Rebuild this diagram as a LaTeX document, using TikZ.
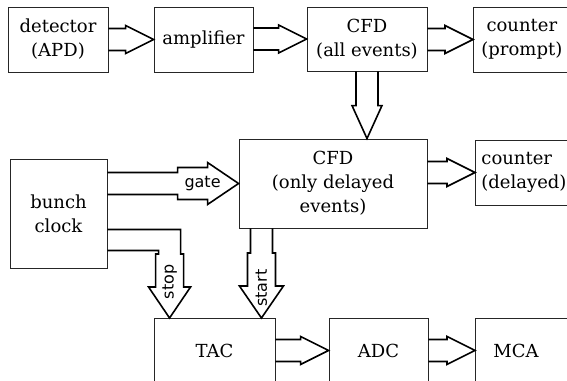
\documentclass[tikz,border=0pt]{standalone}
\usepackage{fontspec}
\setmainfont{DejaVu Serif}
\setsansfont{DejaVu Sans}
\usetikzlibrary{calc}

% freccia piccola orizzontale da #1 a #2
\newcommand{\frecciah}[2]{%
	\draw[freccia] ($(#1.east |- #2.west)+(0,-11)$) -- ($(#2.west)+(-28,-11)$) -- ++(0,-3)
		-- (#2.west) -- ($(#2.west)+(-28,14)$) -- ++(0,-3) -- ($(#1.east |- #2.west)+(0,11)$);}

\begin{document}
\begin{tikzpicture}[x=1pt, y=-1pt,
		blocco/.style={draw=black!85, line width=0.9pt, inner sep=0pt, align=center, font=\fontsize{18}{24}\selectfont},
		freccia/.style={draw=black, line width=1.6pt, line join=miter},
		etichetta/.style={font=\sffamily\fontsize{16}{16}\selectfont, inner sep=0pt}]
	% area visibile
	\useasboundingbox (0,0) rectangle (567,380);
	\clip (0,0) rectangle (567,380);
	\fill[white] (0,0) rectangle (567,380);
	% blocchi in alto
	\node[blocco, minimum width=100pt, minimum height=65pt] (det) at (58,39.5) {detector\\(APD)};
	\node[blocco, minimum width=99pt, minimum height=65pt] (amp) at (203.5,39.5) {amplifier};
	\node[blocco, minimum width=120pt, minimum height=64pt] (cfdA) at (367,39) {CFD\\(all events)};
	\node[blocco, minimum height=65pt, inner xsep=8pt, anchor=west] (cntP) at (473,39.5) {counter\\(prompt)};
	% blocchi in mezzo
	\node[blocco, minimum width=97pt, minimum height=109pt] (clock) at (58.5,213.5) {bunch\\clock};
	\node[blocco, minimum width=188pt, minimum height=89pt] (cfdB) at (333,183.5) {CFD\\(only delayed\\events)};
	\node[blocco, minimum height=65pt, inner xsep=6pt, align=left, anchor=west] (cntD) at (475,172.5) {counter\\(delayed)};
	% blocchi in basso
	\node[blocco, minimum width=121pt, minimum height=64pt, anchor=north] (tac) at (214.5,318) {TAC};
	\node[blocco, minimum width=99pt, minimum height=64pt, anchor=north] (adc) at (378.5,318) {ADC};
	\node[blocco, text width=70pt, inner xsep=18pt, minimum height=64pt, align=left, anchor=north west] (mca) at (475,318) {MCA};
	% frecce piccole
	\frecciah{det}{amp}
	\frecciah{amp}{cfdA}
	\frecciah{cfdA}{cntP}
	\frecciah{cfdB}{cntD}
	\frecciah{tac}{adc}
	\frecciah{adc}{mca}
	\draw[freccia] ($(cfdA.south)+(-11,0)$) -- ($(cfdA.south |- cfdB.north)+(-11,-33)$) -- ++(-4,0)
		-- (cfdA.south |- cfdB.north) -- ($(cfdA.south |- cfdB.north)+(15,-33)$) -- ++(-4,0) -- ($(cfdA.south)+(11,0)$);
	% gate
	\draw[freccia] ($(clock.east |- cfdB.west)+(0,-11)$) -- ($(cfdB.west)+(-61,-11)$) -- ++(0,-5) -- ++(30,0) -- ++(0,-5)
		-- (cfdB.west) -- ($(cfdB.west)+(-31,21)$) -- ++(0,-5) -- ++(-30,0) -- ++(0,-5) -- ($(clock.east |- cfdB.west)+(0,11)$);
	\node[etichetta] (gate) at ($(cfdB.west)+(-36,0)$) {gate};
	% stop
	\coordinate (stopT) at ($(tac.north west)+(16,0)$);
	\draw[freccia] ($(clock.east)+(0,16)$) -| ($(stopT)+(11,-64)$) -- ++(3,0) -- ++(0,33) -- ++(7,0)
		-- (stopT) -- ($(stopT)+(-21,-31)$) -- ++(7,0) -- ++(0,-33) -- ++(3,0) |- ($(clock.east)+(0,37)$);
	\node[etichetta, rotate=90] (stop) at ($(stopT)+(0,-36)$) {stop};
	% start
	\coordinate (startT) at ($(tac.north east)+(-14,0)$);
	\draw[freccia] ($(startT |- cfdB.south)+(-11,0)$) -- ($(startT)+(-11,-65)$) -- ++(-3,0) -- ++(0,33) -- ++(-8,0)
		-- (startT) -- ($(startT)+(22,-32)$) -- ++(-8,0) -- ++(0,-33) -- ++(-3,0) -- ($(startT |- cfdB.south)+(11,0)$);
	\node[etichetta, rotate=90] (start) at ($(startT)+(0,-30)$) {start};
\end{tikzpicture}
\end{document}
